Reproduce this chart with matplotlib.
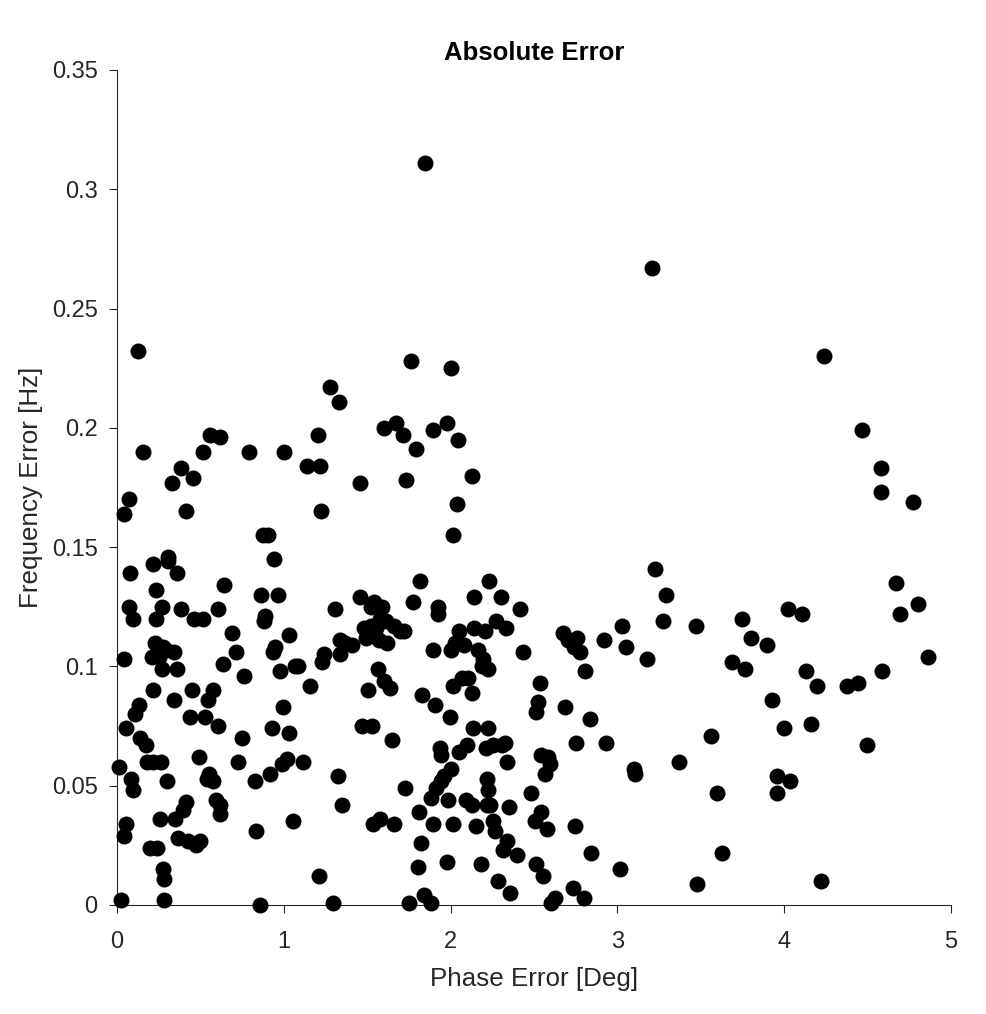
import numpy as np
import matplotlib.pyplot as plt

# valores (erro de fase em graus, erro de frequencia em Hz)
phase_err = [
  0.01, 0.025, 0.04, 0.04, 0.04, 0.055, 0.055, 0.07, 0.07, 0.08,
  0.085, 0.095, 0.095, 0.11, 0.125, 0.13, 0.14, 0.155, 0.175, 0.18,
  0.2, 0.21, 0.215, 0.215, 0.215, 0.23, 0.235, 0.235, 0.24, 0.25,
  0.26, 0.265, 0.27, 0.27, 0.275, 0.275, 0.28, 0.28, 0.3, 0.295,
  0.305, 0.305, 0.33, 0.34, 0.34, 0.345, 0.36, 0.36, 0.365, 0.385,
  0.385, 0.395, 0.415, 0.415, 0.425, 0.44, 0.45, 0.455, 0.46, 0.475,
  0.49, 0.5, 0.515, 0.515, 0.53, 0.54, 0.545, 0.55, 0.56, 0.575,
  0.575, 0.595, 0.605, 0.605, 0.62, 0.62, 0.62, 0.635, 0.64, 0.69,
  0.715, 0.725, 0.75, 0.76, 0.79, 0.825, 0.835, 0.86, 0.865, 0.875,
  0.88, 0.885, 0.905, 0.915, 0.93, 0.935, 0.94, 0.945, 0.965, 0.975,
  0.99, 0.995, 1.03, 1.0, 1.02, 1.03, 1.055, 1.07, 1.085, 1.115,
  1.14, 1.16, 1.205, 1.21, 1.215, 1.225, 1.23, 1.24, 1.28, 1.295,
  1.305, 1.325, 1.33, 1.335, 1.34, 1.35, 1.37, 1.41, 1.455, 1.455,
  1.47, 1.48, 1.495, 1.505, 1.52, 1.52, 1.53, 1.535, 1.54, 1.555,
  1.565, 1.57, 1.575, 1.575, 1.59, 1.6, 1.6, 1.615, 1.62, 1.635,
  1.65, 1.66, 1.66, 1.675, 1.695, 1.715, 1.725, 1.73, 1.72, 1.75,
  1.76, 1.775, 1.79, 1.805, 1.81, 1.815, 1.82, 1.83, 1.84, 1.845,
  1.88, 1.885, 1.895, 1.895, 1.895, 1.905, 1.915, 1.925, 1.925, 1.935,
  1.94, 1.945, 1.96, 1.98, 1.98, 1.985, 1.995, 2.0, 2.005, 2.005,
  2.015, 2.015, 2.015, 2.025, 2.04, 2.045, 2.05, 2.05, 2.07, 2.08,
  2.09, 2.1, 2.105, 2.13, 2.13, 2.135, 2.14, 2.14, 2.155, 2.165,
  2.18, 2.195, 2.19, 2.205, 2.21, 2.22, 2.22, 2.225, 2.225, 2.225,
  2.23, 2.235, 2.255, 2.255, 2.265, 2.27, 2.285, 2.3, 2.31, 2.325,
  2.315, 2.33, 2.34, 2.34, 2.35, 2.355, 2.13, 2.4, 2.415, 2.435,
  2.48, 2.505, 2.51, 2.51, 2.525, 2.535, 2.54, 2.545, 2.555, 2.565,
  2.58, 2.585, 2.595, 2.6, 2.625, 2.675, 2.685, 2.705, 2.735, 2.74,
  2.745, 2.75, 2.76, 2.775, 2.8, 2.805, 2.835, 2.84, 2.92, 2.93,
  3.015, 3.03, 3.05, 3.1, 3.105, 3.175, 3.21, 3.225, 3.275, 3.29,
  3.37, 3.47, 3.48, 3.56, 3.6, 3.63, 3.69, 3.75, 3.765, 3.8,
  3.9, 3.925, 3.96, 3.96, 4.0, 4.025, 4.035, 4.105, 4.13, 4.16,
  4.195, 4.22, 4.24, 4.375, 4.44, 4.465, 4.495, 4.58, 4.58, 4.585,
  4.67, 4.695, 4.77, 4.805, 4.86,
]

freq_err = [
  0.058, 0.002, 0.029, 0.103, 0.164, 0.034, 0.074, 0.170, 0.125, 0.139,
  0.053, 0.048, 0.120, 0.080, 0.232, 0.084, 0.070, 0.190, 0.067, 0.060,
  0.024, 0.104, 0.090, 0.060, 0.143, 0.110, 0.132, 0.120, 0.024, 0.104,
  0.036, 0.060, 0.099, 0.125, 0.108, 0.015, 0.011, 0.002, 0.052, 0.107,
  0.146, 0.144, 0.177, 0.106, 0.086, 0.036, 0.139, 0.099, 0.028, 0.183,
  0.124, 0.040, 0.165, 0.043, 0.027, 0.079, 0.090, 0.179, 0.120, 0.025,
  0.062, 0.027, 0.120, 0.190, 0.079, 0.053, 0.086, 0.055, 0.197, 0.052,
  0.090, 0.044, 0.124, 0.075, 0.196, 0.038, 0.042, 0.101, 0.134, 0.114,
  0.106, 0.060, 0.070, 0.096, 0.190, 0.052, 0.031, 0.000, 0.130, 0.155,
  0.119, 0.121, 0.155, 0.055, 0.074, 0.106, 0.145, 0.108, 0.130, 0.098,
  0.059, 0.083, 0.072, 0.190, 0.061, 0.113, 0.035, 0.100, 0.100, 0.060,
  0.184, 0.092, 0.197, 0.012, 0.184, 0.165, 0.102, 0.105, 0.217, 0.001,
  0.124, 0.054, 0.211, 0.105, 0.111, 0.042, 0.110, 0.109, 0.177, 0.129,
  0.075, 0.116, 0.112, 0.090, 0.125, 0.117, 0.075, 0.034, 0.127, 0.116,
  0.099, 0.111, 0.036, 0.120, 0.125, 0.094, 0.200, 0.119, 0.110, 0.091,
  0.069, 0.034, 0.117, 0.202, 0.115, 0.197, 0.049, 0.178, 0.115, 0.001,
  0.228, 0.127, 0.191, 0.016, 0.039, 0.136, 0.026, 0.088, 0.004, 0.311,
  0.001, 0.045, 0.199, 0.034, 0.107, 0.084, 0.049, 0.125, 0.122, 0.066,
  0.052, 0.063, 0.054, 0.202, 0.018, 0.044, 0.079, 0.057, 0.225, 0.107,
  0.092, 0.034, 0.155, 0.110, 0.168, 0.195, 0.115, 0.064, 0.095, 0.109,
  0.044, 0.067, 0.095, 0.089, 0.180, 0.074, 0.129, 0.116, 0.033, 0.107,
  0.017, 0.103, 0.100, 0.115, 0.066, 0.053, 0.042, 0.074, 0.099, 0.048,
  0.136, 0.042, 0.067, 0.035, 0.031, 0.119, 0.010, 0.129, 0.067, 0.068,
  0.023, 0.116, 0.060, 0.027, 0.041, 0.005, 0.042, 0.021, 0.124, 0.106,
  0.047, 0.035, 0.081, 0.017, 0.085, 0.093, 0.039, 0.063, 0.012, 0.055,
  0.032, 0.062, 0.059, 0.001, 0.003, 0.114, 0.083, 0.111, 0.007, 0.108,
  0.033, 0.068, 0.112, 0.106, 0.003, 0.098, 0.078, 0.022, 0.111, 0.068,
  0.015, 0.117, 0.108, 0.057, 0.055, 0.103, 0.267, 0.141, 0.119, 0.130,
  0.060, 0.117, 0.009, 0.071, 0.047, 0.022, 0.102, 0.120, 0.099, 0.112,
  0.109, 0.086, 0.047, 0.054, 0.074, 0.124, 0.052, 0.122, 0.098, 0.076,
  0.092, 0.010, 0.230, 0.092, 0.093, 0.199, 0.067, 0.183, 0.173, 0.098,
  0.135, 0.122, 0.169, 0.126, 0.104,
]

x_ticks = [0, 1, 2, 3, 4, 5]
y_ticks = [0, 0.05, 0.1, 0.15, 0.2, 0.25, 0.3, 0.35]

plt.rcParams['font.family'] = ['Liberation Sans', 'DejaVu Sans']
cor_eixo = '#262626'

fig = plt.figure(figsize=(9.87, 10.14), dpi=100)
ax = fig.add_axes([0.1185, 0.1075, 0.845, 0.8235])

# pontos desenhados por cima dos eixos, sem recorte (como no MATLAB)
ax.plot(phase_err, freq_err, 'o', color='black', markersize=11.5,
        markeredgewidth=0, clip_on=False, zorder=3)

ax.set_xlim(0, 5)
ax.set_ylim(0, 0.35)
ax.set_xticks(x_ticks)
ax.set_yticks(y_ticks)
ax.set_xticklabels([f'{v:g}' for v in x_ticks])
ax.set_yticklabels([f'{v:g}' for v in y_ticks])

for lado in ['top', 'right']:
  ax.spines[lado].set_visible(False)
for lado in ['left', 'bottom']:
  ax.spines[lado].set_color(cor_eixo)
  ax.spines[lado].set_linewidth(0.8)
ax.tick_params(direction='out', length=6, width=0.8, colors=cor_eixo, labelsize=17)
ax.tick_params(axis='x', pad=13)
ax.tick_params(axis='y', pad=8)

ax.set_title('Absolute Error', fontsize=18.5, fontweight='bold', color='black', pad=7)
ax.set_xlabel('Phase Error [Deg]', fontsize=18.7, color=cor_eixo, labelpad=10)
ax.set_ylabel('Frequency Error [Hz]', fontsize=18.7, color=cor_eixo, labelpad=6)

fig.savefig('out.png', dpi=100)
